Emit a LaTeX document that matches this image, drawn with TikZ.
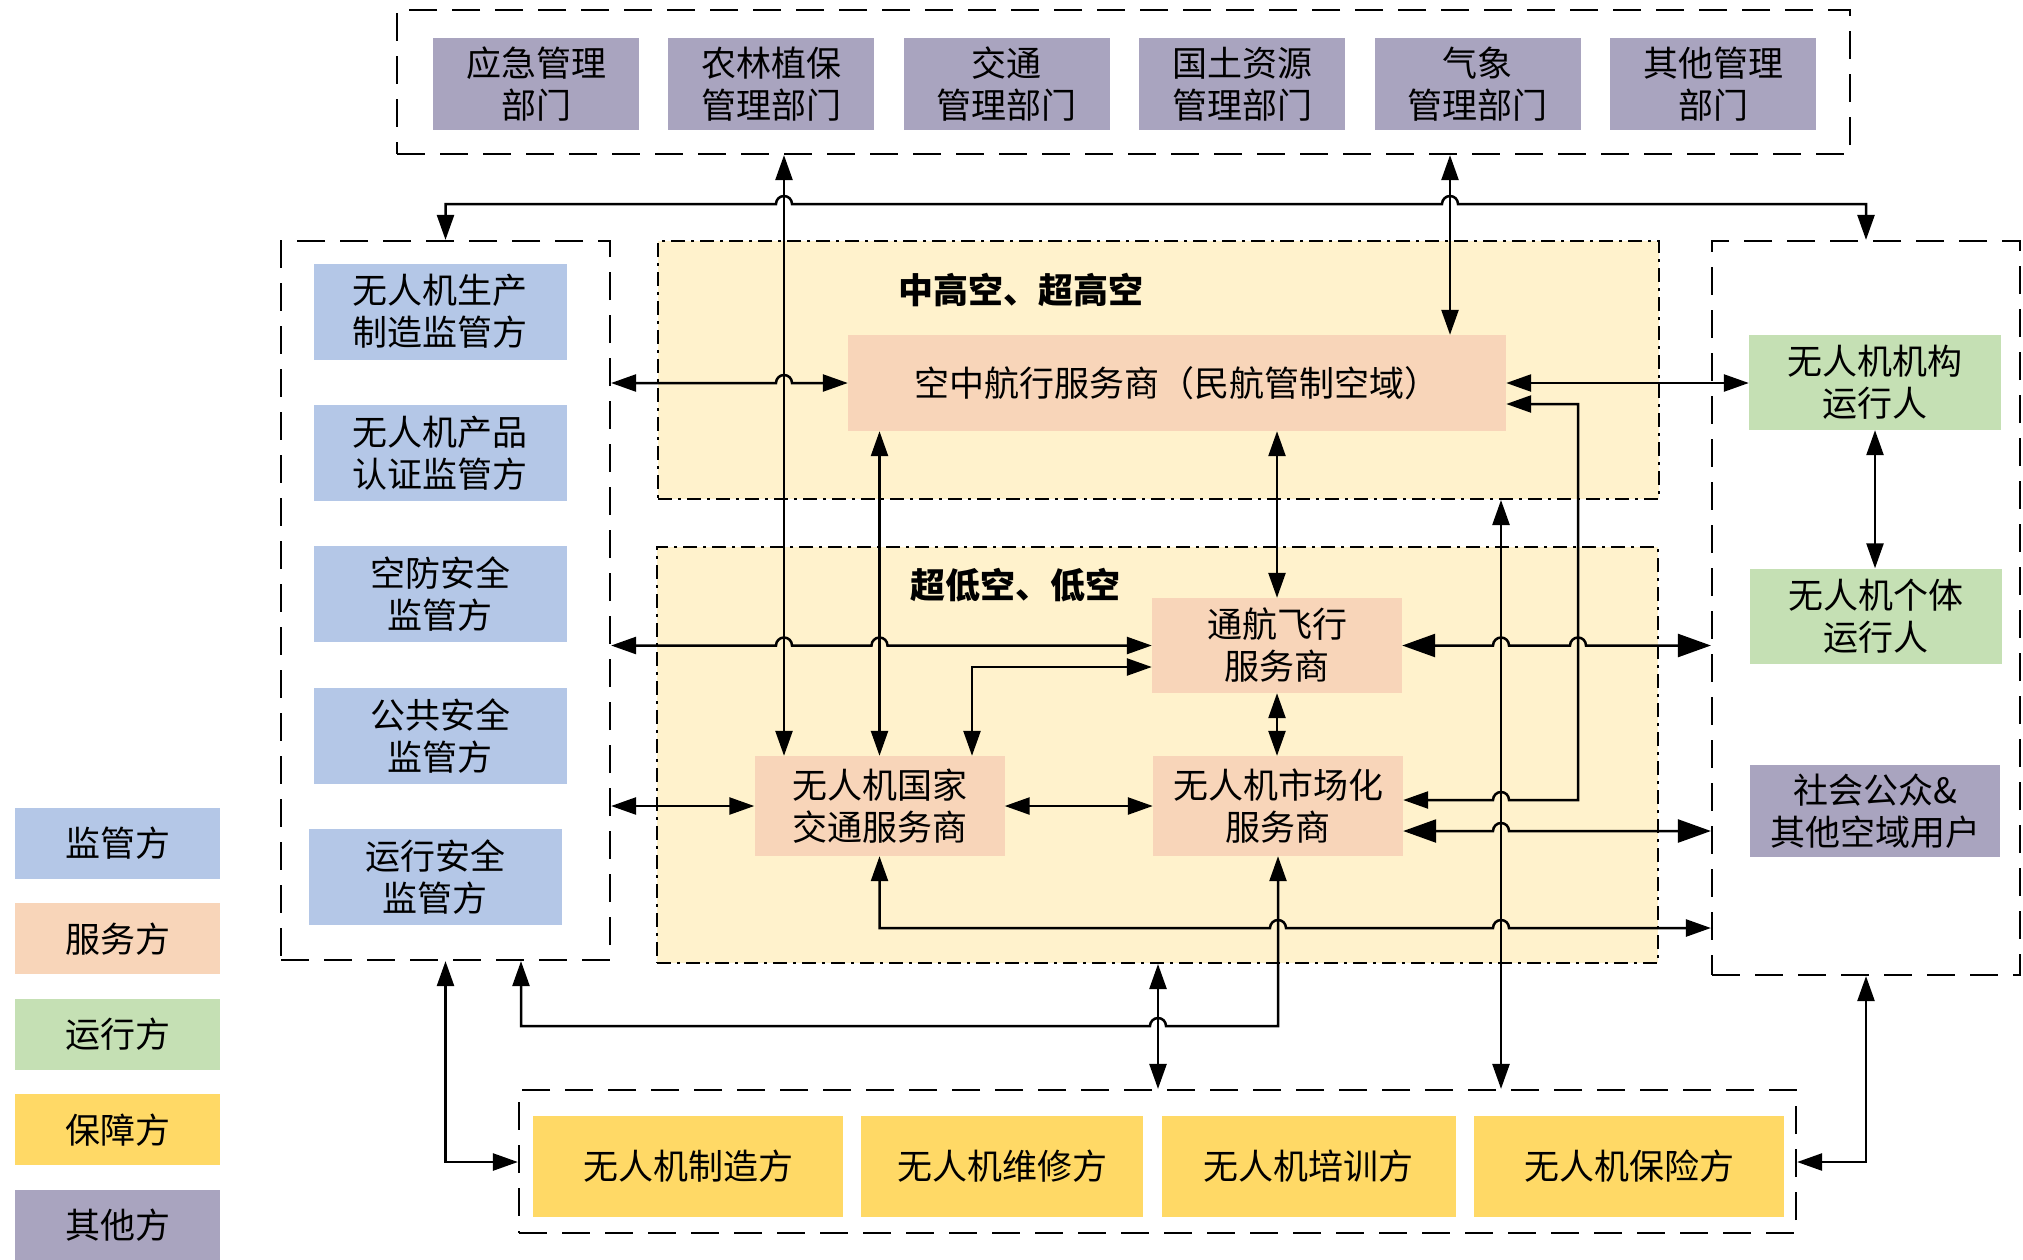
\documentclass[tikz,border=0pt]{standalone}
\usepackage{fontspec}
\setmainfont{Noto Sans CJK SC}
\usepackage{tikz}
\usepackage{xcolor}
\usetikzlibrary{positioning,shapes,arrows.meta,calc}
\definecolor{regblue}{HTML}{B4C7E7}
\definecolor{svcpeach}{HTML}{F8D5B9}
\definecolor{oprgreen}{HTML}{C5E0B4}
\definecolor{supgold}{HTML}{FFD966}
\definecolor{othgray}{HTML}{A9A4BF}
\definecolor{bandyellow}{HTML}{FFF2CC}

% line jump over a vertical connector
\newcommand{\hop}[1]{-- ($(#1)+(-8pt,0)$) arc[start angle=180, end angle=0, radius=8pt]}

\begin{document}
\begin{tikzpicture}[x=1pt, y=-1pt,
    box/.style={rectangle, inner sep=0pt, align=center, font=\fontsize{35}{42}\selectfont, text=black},
    dept/.style={box, fill=othgray, minimum width=206pt, minimum height=92pt},
    reg/.style={box, fill=regblue, minimum width=253pt, minimum height=96pt},
    svc/.style={box, fill=svcpeach, minimum width=250pt, minimum height=100pt},
    opr/.style={box, fill=oprgreen, minimum width=252pt, minimum height=95pt},
    sup/.style={box, fill=supgold, minimum height=101pt},
    legend/.style={box, minimum width=205pt, minimum height=71pt},
    grp/.style={rectangle, draw=black, line width=2.2pt, dash pattern=on 28pt off 15pt},
    band/.style={rectangle, fill=bandyellow, draw=black, line width=2pt, dash pattern=on 14pt off 6pt on 3pt off 6pt},
    zone/.style={font=\fontsize{35}{42}\selectfont\bfseries},
    arrow/.style={<->, >={Triangle[length=25pt,width=17pt]}, line width=2.5pt, draw=black},
    bigarrow/.style={arrow, >={Triangle[length=33pt,width=23pt]}}
]
    \useasboundingbox (0,0) rectangle (2023,1259);

    % Groups and airspace bands
    \node[grp, minimum width=1453pt, minimum height=144pt] (topgrp) at (1123.5,82) {};
    \node[grp, minimum width=329pt, minimum height=719pt] (lgrp) at (445.5,600.5) {};
    \node[grp, minimum width=308pt, minimum height=734pt] (rgrp) at (1866,608) {};
    \node[grp, minimum width=1277pt, minimum height=143pt] (bgrp) at (1157.5,1161.5) {};
    \node[band, minimum width=1001pt, minimum height=258pt] (band_high) at (1158.5,370) {};
    \node[band, minimum width=1001pt, minimum height=416pt] (band_low) at (1157.5,755) {};
    \node[zone] (zone_high) at (1021,290) {中高空、超高空};
    \node[zone] (zone_low) at (1015,585) {超低空、低空};

    % Management departments
    \node[dept] (dept_emerg) at (536,84) {应急管理\\部门};
    \node[dept, right=29pt of dept_emerg] (dept_agri) {农林植保\\管理部门};
    \node[dept, right=29pt of dept_agri] (dept_traffic) {交通\\管理部门};
    \node[dept, right=29pt of dept_traffic] (dept_land) {国土资源\\管理部门};
    \node[dept, right=29pt of dept_land] (dept_meteo) {气象\\管理部门};
    \node[dept, right=29pt of dept_meteo] (dept_other) {其他管理\\部门};

    % Regulators
    \node[reg] (reg_prod) at (440,311.5) {无人机生产\\制造监管方};
    \node[reg, below=45pt of reg_prod] (reg_cert) {无人机产品\\认证监管方};
    \node[reg, below=45pt of reg_cert] (reg_def) {空防安全\\监管方};
    \node[reg, below=45pt of reg_def] (reg_pub) {公共安全\\监管方};
    \node[reg, below=45pt of reg_pub, xshift=-5pt] (reg_ops) {运行安全\\监管方};

    % Service providers
    \node[svc, minimum width=658pt, minimum height=96pt] (svc_air) at (1177,383) {空中航行服务商（民航管制空域）};
    \node[svc, minimum height=95pt] (svc_gen) at (1277,645.5) {通航飞行\\服务商};
    \node[svc] (svc_nat) at (879.5,806) {无人机国家\\交通服务商};
    \node[svc] (svc_mkt) at (1278,806) {无人机市场化\\服务商};

    % Operators and other users
    \node[opr] (opr_org) at (1875,382.5) {无人机机构\\运行人};
    \node[opr] (opr_ind) at (1876,616) {无人机个体\\运行人};
    \node[box, fill=othgray, minimum width=250pt, minimum height=92pt] (oth_pub) at (1875,811) {社会公众\&\\其他空域用户};

    % Support parties
    \node[sup, minimum width=310pt] (sup_make) at (688,1166) {无人机制造方};
    \node[sup, minimum width=282pt, right=18pt of sup_make] (sup_fix) {无人机维修方};
    \node[sup, minimum width=294pt, right=18pt of sup_fix] (sup_train) {无人机培训方};
    \node[sup, minimum width=310pt, right=18pt of sup_train] (sup_ins) {无人机保险方};

    % Legend
    \node[legend, fill=regblue] (leg_reg) at (117.5,843.5) {监管方};
    \node[legend, fill=svcpeach, below=24pt of leg_reg] (leg_svc) {服务方};
    \node[legend, fill=oprgreen, below=24pt of leg_svc] (leg_opr) {运行方};
    \node[legend, fill=supgold, below=24pt of leg_opr] (leg_sup) {保障方};
    \node[legend, fill=othgray, below=24pt of leg_sup] (leg_oth) {其他方};

    % Helper coordinates for the connector runs
    \coordinate (xa) at (784,0);
    \coordinate (xc) at (972,0);
    \coordinate (xe) at (1450,0);
    \coordinate (xf) at (1501,0);
    \coordinate (xg) at (1578,0);
    \coordinate (xh) at (1158,0);
    \coordinate (xl) at (521,0);
    \coordinate (ytop) at (0,204);
    \coordinate (ynat) at (0,928);
    \coordinate (yreg) at (0,1026);
    \coordinate (ysup) at (0,1162);
    \coordinate (air_lo) at ([yshift=-21pt]svc_air.east);
    \coordinate (mkt_hi) at ([yshift=6pt]svc_mkt.east);
    \coordinate (mkt_lo) at ([yshift=-25pt]svc_mkt.east);
    \coordinate (gen_lo) at ([yshift=-21.5pt]svc_gen.west);

    % Arrows: vertical runs
    \draw[arrow] (topgrp.south -| xa) -- (svc_nat.north -| xa);
    \draw[arrow] (topgrp.south -| xe) -- (svc_air.north -| xe);
    \draw[arrow] (svc_air.south -| svc_nat.north) -- (svc_nat.north);
    \draw[arrow] (svc_air.south -| svc_gen.north) -- (svc_gen.north);
    \draw[arrow] (band_high.south -| xf) -- (bgrp.north -| xf);
    \draw[arrow] (band_low.south -| xh) -- (bgrp.north -| xh);
    \draw[arrow] (svc_gen.south) -- (svc_gen.south |- svc_mkt.north);
    \draw[arrow] (opr_org.south) -- (opr_org.south |- opr_ind.north);

    % Arrows: top link between regulators and operators
    \draw[arrow] (lgrp.north) -- (lgrp.north |- ytop) \hop{xa |- ytop} \hop{xe |- ytop} -- (rgrp.north |- ytop) -- (rgrp.north);

    % Arrows: regulators to services
    \draw[arrow] (lgrp.east |- svc_air.west) \hop{xa |- svc_air.west} -- (svc_air.west);
    \draw[arrow] (lgrp.east |- svc_gen.west) \hop{xa |- svc_gen.west} \hop{svc_nat.north |- svc_gen.west} -- (svc_gen.west);
    \draw[arrow] (lgrp.east |- svc_nat.west) -- (svc_nat.west);

    % Arrows: between services
    \draw[arrow] (svc_nat.east) -- (svc_mkt.west);
    \draw[arrow] (xc |- svc_nat.north) -- (xc |- gen_lo) -- (gen_lo);
    \draw[arrow] (mkt_hi) \hop{xf |- mkt_hi} -- (xg |- mkt_hi) -- (xg |- air_lo) -- (air_lo);

    % Arrows: services to operators
    \draw[arrow] (svc_air.east) -- (svc_air.east -| opr_org.west);
    \draw[bigarrow] (svc_gen.east) \hop{xf |- svc_gen.east} \hop{xg |- svc_gen.east} -- (rgrp.west |- svc_gen.east);
    \draw[bigarrow] (mkt_lo) \hop{xf |- mkt_lo} -- (rgrp.west |- mkt_lo);
    \draw[arrow] (svc_nat.south) -- (svc_nat.south |- ynat) \hop{svc_mkt.south |- ynat} \hop{xf |- ynat} -- (rgrp.west |- ynat);

    % Arrows: lower loops
    \draw[arrow] (xl |- lgrp.south) -- (xl |- yreg) \hop{xh |- yreg} -- (svc_mkt.south |- yreg) -- (svc_mkt.south);
    \draw[arrow] (lgrp.south) -- (lgrp.south |- ysup) -- (bgrp.west |- ysup);
    \draw[arrow] (rgrp.south) -- (rgrp.south |- ysup) -- (bgrp.east |- ysup);
\end{tikzpicture}
\end{document}
